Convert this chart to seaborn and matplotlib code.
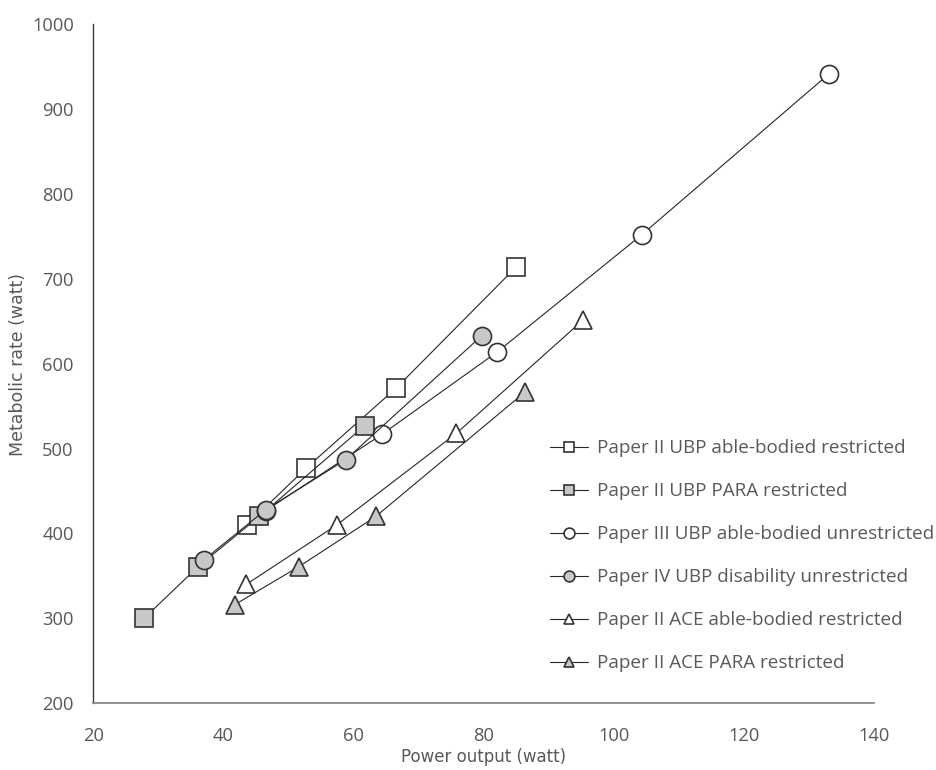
import matplotlib
matplotlib.use("Agg")
import matplotlib.pyplot as plt
import seaborn as sns
import pandas as pd

# Power output (W) and metabolic rate (W) for each test series
ubp_ab_restr_x = [43.6, 52.7, 66.5, 85.0]
ubp_ab_restr_y = [410, 477, 571, 714]

ubp_para_restr_x = [27.8, 36.1, 45.5, 61.7]
ubp_para_restr_y = [300, 361, 420, 527]

ubp_ab_unrestr_x = [46.5, 64.4, 82.1, 104.3, 133.0]
ubp_ab_unrestr_y = [427, 517, 614, 752, 941]

ubp_dis_unrestr_x = [37.0, 46.5, 58.8, 79.7]
ubp_dis_unrestr_y = [369, 428, 487, 633]

ace_ab_restr_x = [43.5, 57.4, 75.8, 95.2]
ace_ab_restr_y = [340, 410, 518, 651]

ace_para_restr_x = [41.7, 51.6, 63.4, 86.4]
ace_para_restr_y = [316, 361, 420, 567]

labels = [
    "Paper II UBP able-bodied restricted",
    "Paper II UBP PARA restricted",
    "Paper III UBP able-bodied unrestricted",
    "Paper IV UBP disability unrestricted",
    "Paper II ACE able-bodied restricted",
    "Paper II ACE PARA restricted",
]
x_ticks = [20, 40, 60, 80, 100, 120, 140]
y_ticks = [200, 300, 400, 500, 600, 700, 800, 900, 1000]

series = [
    (ubp_ab_restr_x, ubp_ab_restr_y, "s", "white"),
    (ubp_para_restr_x, ubp_para_restr_y, "s", "#c8c8c8"),
    (ubp_ab_unrestr_x, ubp_ab_unrestr_y, "o", "white"),
    (ubp_dis_unrestr_x, ubp_dis_unrestr_y, "o", "#c8c8c8"),
    (ace_ab_restr_x, ace_ab_restr_y, "^", "white"),
    (ace_para_restr_x, ace_para_restr_y, "^", "#c8c8c8"),
]

sns.set_theme(style="white")
plt.rcParams["font.family"] = ["Open Sans", "DejaVu Sans"]

fig = plt.figure(figsize=(9.37, 7.7), dpi=100)
ax = fig.add_axes([93.3 / 937, 1 - 703.3 / 770, 781 / 937, 679.3 / 770])

text_color = "#595959"
edge = "#333333"

for (xs, ys, mk, face), lab in zip(series, labels):
    df = pd.DataFrame({"power": xs, "metabolic": ys})
    sns.lineplot(
        data=df, x="power", y="metabolic", ax=ax, sort=False,
        color="#262626", linewidth=0.8, marker=mk, markersize=13,
        markerfacecolor=face, markeredgecolor=edge, markeredgewidth=1.2,
        label=lab,
    )

ax.set_xlim(20, 140)
ax.set_ylim(200, 1000)
ax.set_xticks(x_ticks)
ax.set_yticks(y_ticks)
ax.tick_params(axis="both", length=0, labelsize=13.2, colors=text_color)
ax.tick_params(axis="x", pad=17)
ax.tick_params(axis="y", pad=14)

for side in ["top", "right"]:
    ax.spines[side].set_visible(False)
ax.spines["left"].set_color("#3a3a3a")
ax.spines["left"].set_linewidth(1.0)
ax.spines["bottom"].set_color("#8a8a8a")
ax.spines["bottom"].set_linewidth(1.3)

narrow = ["Liberation Sans Narrow", "DejaVu Sans"]
ax.set_xlabel("Power output (watt)", fontsize=12, color=text_color,
              family=narrow)
ax.set_ylabel("Metabolic rate (watt)", fontsize=12.5, color=text_color,
              family=narrow)
ax.xaxis.set_label_coords((484 - 93.3) / 781, (703.3 - 757) / 679.3)
ax.yaxis.set_label_coords((18 - 93.3) / 781, (703.3 - 364) / 679.3)
ax.xaxis.label.set_verticalalignment("center")
ax.yaxis.label.set_verticalalignment("center")

leg = ax.legend(
    loc="upper left", bbox_to_anchor=(541 / 937, 1 - 430 / 770),
    bbox_transform=fig.transFigure, frameon=False, fontsize=13.6,
    markerscale=0.6, handlelength=2.0, handletextpad=0.45,
    labelspacing=1.32, borderpad=0,
)
for t in leg.get_texts():
    t.set_color(text_color)

fig.savefig("out.png", dpi=100, facecolor="white")
